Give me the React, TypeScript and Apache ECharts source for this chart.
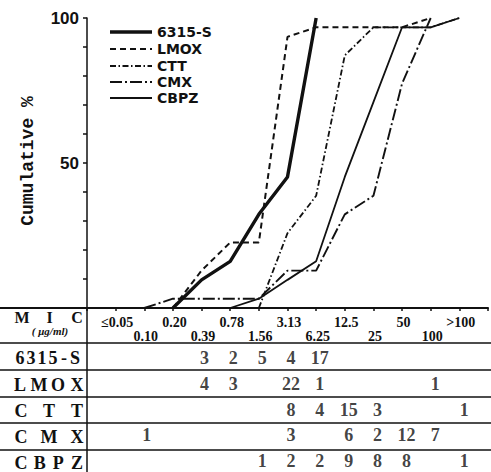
import React, { useEffect, useRef } from "react";
import * as echarts from "echarts";

const categories = ["≤0.05", "0.10", "0.20", "0.39", "0.78", "1.56", "3.13", "6.25", "12.5", "25", "50", "100", ">100"];
const seriesNames = ["6315-S", "LMOX", "CTT", "CMX", "CBPZ"];

// cumulative % at each MIC position (null = not drawn)
const cum6315 = [null, null, 0, 9.7, 16.1, 32.3, 45.2, 100, null, null, null, null, null];
const cumLMOX = [null, null, 0, 12.9, 22.6, 22.6, 93.5, 96.8, 96.8, 96.8, 96.8, 100, null];
const cumCTT = [null, null, null, null, null, 0, 25.8, 38.7, 87.1, 96.8, 96.8, 96.8, 100];
const cumCMX = [null, 0, 3.2, 3.2, 3.2, 3.2, 12.9, 12.9, 32.3, 38.7, 77.4, 100, null];
const cumCBPZ = [null, null, null, null, 0, 3.2, 9.7, 16.1, 45.2, 71.0, 96.8, 96.8, 100];

// table counts
const cnt6315 = [null, null, null, 3, 2, 5, 4, 17, null, null, null, null, null];
const cntLMOX = [null, null, null, 4, 3, null, 22, 1, null, null, null, 1, null];
const cntCTT = [null, null, null, null, null, null, 8, 4, 15, 3, null, null, 1];
const cntCMX = [null, 1, null, null, null, null, 3, null, 6, 2, 12, 7, null];
const cntCBPZ = [null, null, null, null, null, 1, 2, 2, 9, 8, 8, null, 1];

const rowLabels = ["6315-S", "LMOX", "CTT", "CMX", "CBPZ"];
const yTickLabels = [50, 100];

const INK = "#111";

function spreadLetters(text: string, y: number, x0: number, x1: number, size: number) {
  const chars = text.split("");
  const n = chars.length;
  return chars.map((c, i) => ({
    type: "text",
    x: n > 1 ? x0 + ((x1 - x0) * i) / (n - 1) : (x0 + x1) / 2,
    y,
    style: {
      text: c,
      align: "center",
      verticalAlign: "middle",
      fill: INK,
      fontSize: size,
      fontWeight: "bold",
      fontFamily: "Liberation Serif",
    },
  }));
}

export default function App() {
  const ref = useRef<HTMLDivElement>(null);
  useEffect(() => {
    if (!ref.current) return;
    const chart = echarts.init(ref.current, undefined, { renderer: "svg" });
    const cums = [cum6315, cumLMOX, cumCTT, cumCMX, cumCBPZ];
    const counts = [cnt6315, cntLMOX, cntCTT, cntCMX, cntCBPZ];
    const styles: any[] = [
      { width: 3.4, dash: null },
      { width: 2, dash: [6, 4] },
      { width: 1.8, dash: [6, 2.5, 1.5, 2.5] },
      { width: 1.9, dash: [12, 3, 2, 3] },
      { width: 1.8, dash: null },
    ];
    const lineSeries = cums.map((c, k) => ({
      name: seriesNames[k],
      type: "line",
      xAxisIndex: 0,
      yAxisIndex: 0,
      symbol: "none",
      lineStyle: { color: INK, width: styles[k].width, type: styles[k].dash || "solid" },
      itemStyle: { color: INK },
      data: c.map((v, i) => [i, v]).filter((p) => p[1] !== null),
    }));
    const tableData: any[] = [];
    counts.forEach((row, r) => {
      row.forEach((v, i) => {
        if (v !== null) tableData.push([i, r, v]);
      });
    });

    const legendYs = [32, 49, 66, 82, 98];
    const legendItems: any[] = [];
    seriesNames.forEach((name, k) => {
      legendItems.push({
        type: "line",
        shape: { x1: 110, y1: legendYs[k], x2: 152, y2: legendYs[k] },
        style: {
          stroke: INK,
          lineWidth: styles[k].width,
          lineDash: styles[k].dash || undefined,
        },
      });
      legendItems.push({
        type: "text",
        x: 157,
        y: legendYs[k],
        style: {
          text: name,
          align: "left",
          verticalAlign: "middle",
          fill: INK,
          fontSize: 14,
          fontWeight: "bold",
          fontFamily: "DejaVu Sans",
        },
      });
    });

    const rowLines = [343, 370, 397, 423, 450];
    const graphic: any[] = [
      { type: "line", shape: { x1: 0, y1: 308, x2: 88, y2: 308 }, style: { stroke: INK, lineWidth: 2 } },
      ...rowLines.map((y) => ({
        type: "line",
        shape: { x1: 0, y1: y, x2: 491, y2: y },
        style: { stroke: INK, lineWidth: 1.5 },
      })),
      { type: "line", shape: { x1: 87, y1: 308, x2: 87, y2: 472 }, style: { stroke: INK, lineWidth: 1.5 } },
      {
        type: "text",
        x: 28,
        y: 161,
        rotation: Math.PI / 2,
        style: {
          text: "Cumulative %",
          align: "center",
          verticalAlign: "middle",
          fill: INK,
          fontSize: 18,
          fontWeight: "bold",
          fontFamily: "Liberation Mono",
        },
      },
      ...legendItems,
      ...spreadLetters("MIC", 317, 22, 77, 16),
      {
        type: "text",
        x: 50,
        y: 331,
        style: {
          text: "( μg/ml)",
          align: "center",
          verticalAlign: "middle",
          fill: INK,
          fontSize: 11,
          fontWeight: "bold",
          fontStyle: "italic",
          fontFamily: "Liberation Serif",
        },
      },
      ...spreadLetters(rowLabels[0], 358, 20, 75, 18),
      ...spreadLetters(rowLabels[1], 385, 20, 77, 18),
      ...spreadLetters(rowLabels[2], 411, 21, 77, 18),
      ...spreadLetters(rowLabels[3], 437, 21, 77, 18),
      ...spreadLetters(rowLabels[4], 463, 21, 77, 18),
    ];

    chart.setOption({
      animation: false,
      backgroundColor: "#fff",
      grid: [
        { left: 87, top: 18, width: 405, height: 290 },
        { left: 87, top: 343, width: 405, height: 133 },
      ],
      xAxis: [
        {
          type: "value",
          gridIndex: 0,
          min: -1,
          max: 13,
          interval: 1,
          axisLine: { onZero: false, lineStyle: { color: INK, width: 2 } },
          axisTick: { show: true, length: 3, lineStyle: { color: INK, width: 1.5 } },
          splitLine: { show: false },
          axisLabel: {
            margin: 7,
            formatter: (v: number) => {
              const lab = categories[v];
              if (lab === undefined) return "";
              return v % 2 === 0 ? `{hi|${lab}}` : `{lo|${lab}}`;
            },
            rich: {
              hi: { fontSize: 14, fontWeight: "bold", fontFamily: "Liberation Serif", color: INK, padding: [0, 0, 0, 3] },
              lo: { fontSize: 14, fontWeight: "bold", fontFamily: "Liberation Serif", color: INK, padding: [14, 0, 0, 3] },
            },
          },
        },
        { type: "value", gridIndex: 1, min: -1, max: 13, interval: 1, show: false },
      ],
      yAxis: [
        {
          type: "value",
          gridIndex: 0,
          min: 0,
          max: 100,
          interval: 10,
          axisLine: { show: true, onZero: false, lineStyle: { color: INK, width: 1.5 } },
          axisTick: { show: true, length: 4, lineStyle: { color: INK, width: 1.5 } },
          splitLine: { show: false },
          axisLabel: {
            margin: 8,
            color: INK,
            fontSize: 17,
            fontWeight: "bold",
            fontFamily: "Liberation Sans",
            formatter: (v: number) => (yTickLabels.includes(v) ? String(v) : ""),
          },
        },
        { type: "category", gridIndex: 1, data: rowLabels, inverse: true, show: false },
      ],
      series: [
        ...lineSeries,
        {
          type: "scatter",
          xAxisIndex: 1,
          yAxisIndex: 1,
          symbolSize: 1,
          itemStyle: { color: "rgba(0,0,0,0)" },
          label: {
            show: true,
            position: "inside",
            offset: [2, 2],
            formatter: (p: any) => String(p.value[2]),
            color: INK,
            fontSize: 18,
            fontWeight: "bold",
            fontFamily: "Liberation Serif",
          },
          data: tableData,
        },
      ],
      graphic,
    });
    return () => chart.dispose();
  }, []);
  return <div ref={ref} style={{ position: "absolute", left: 0, top: 0, width: 491, height: 472 }} />;
}
